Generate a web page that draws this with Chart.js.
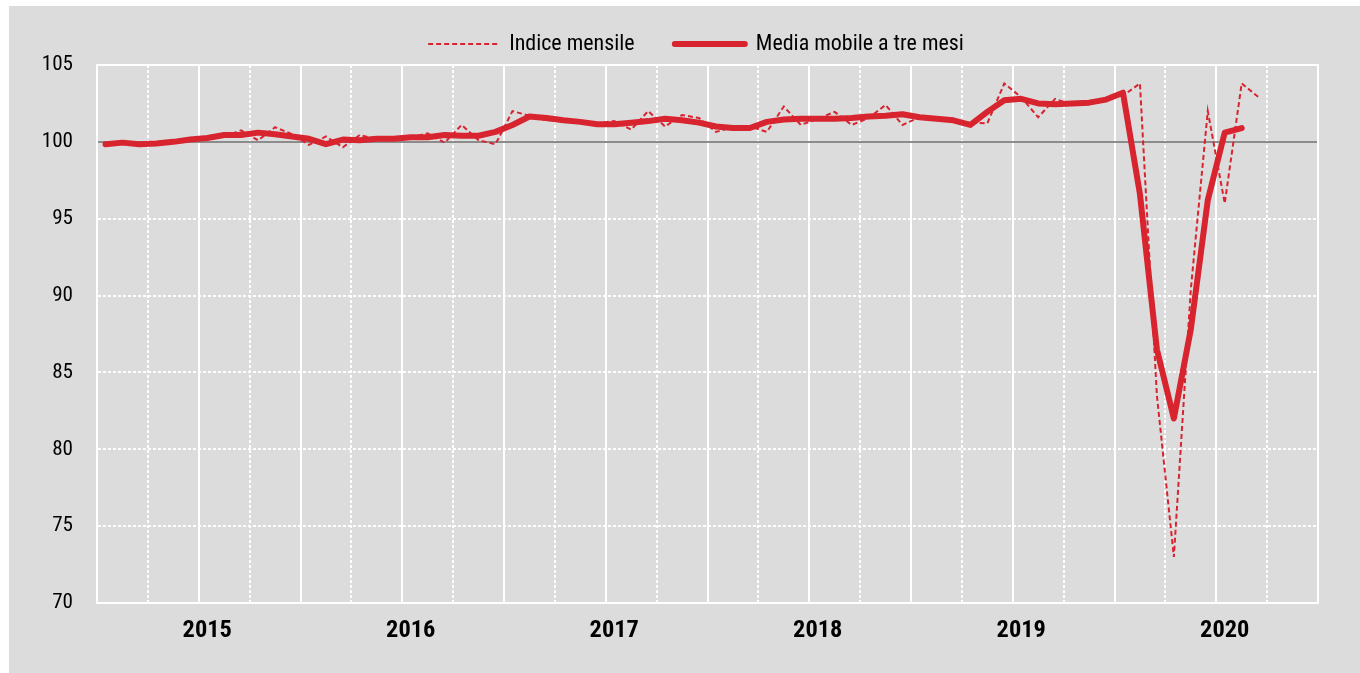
<!DOCTYPE html>
<html>
<head>
<meta charset="utf-8">
<script src="https://cdn.jsdelivr.net/npm/chart.js@4"></script>
<style>
  html, body { margin: 0; padding: 0; background: #ffffff; }
  #wrap { position: absolute; left: 0; top: 0; width: 1360px; height: 673px; }
</style>
</head>
<body>
<div id="wrap"><canvas id="c" width="1360" height="673"></canvas></div>
<script>
// ---- data ----
const years = ['2015', '2016', '2017', '2018', '2019', '2020'];
const months = ['01', '02', '03', '04', '05', '06', '07', '08', '09', '10', '11', '12'];
const yearLabelMonth = 6; // year label placed at July
const seriesNames = ['Indice mensile', 'Media mobile a tre mesi'];

const indiceMensile = [
  99.8, 99.95, 99.8, 99.9, 100.0, 100.25, 100.3, 100.35, 100.75, 100.1, 100.95, 100.5,
  99.8, 100.35, 99.65, 100.45, 100.15, 100.25, 100.3, 100.55, 99.95, 101.1, 100.1, 99.85,
  102.0, 101.7, 101.4, 101.4, 101.3, 101.2, 101.35, 100.8, 102.0, 101.0, 101.75, 101.55,
  100.65, 100.95, 101.0, 100.65, 102.3, 101.1, 101.5, 101.95, 101.1, 101.55, 102.4, 101.1,
  101.6, 101.55, 101.3, 101.25, 101.2, 103.8, 102.9, 101.6, 102.8, 102.4, 102.5, 102.8,
  103.0, 103.8, 83.5, 73.0, 90.4, 102.0, 96.0, 103.8, 102.9
];

const mediaMobile = [
  99.85, 99.95, 99.85, 99.9, 100.0, 100.15, 100.25, 100.45, 100.45, 100.6, 100.5, 100.35,
  100.2, 99.85, 100.15, 100.1, 100.2, 100.2, 100.3, 100.3, 100.45, 100.4, 100.4, 100.65,
  101.1, 101.65, 101.55, 101.4, 101.3, 101.15, 101.15, 101.25, 101.35, 101.5, 101.4, 101.25,
  101.0, 100.9, 100.9, 101.3, 101.45, 101.5, 101.5, 101.5, 101.55, 101.65, 101.7, 101.8,
  101.6, 101.5, 101.4, 101.1, 101.95, 102.7, 102.8, 102.5, 102.45, 102.5, 102.55, 102.75,
  103.2, 96.6, 86.5, 82.0, 87.8, 96.2, 100.6, 100.9
];

const yMin = 70, yMax = 105, yStep = 5, refLine = 100;

// ---- build ----
const labels = [];
years.forEach(y => months.forEach(m => labels.push(y + '-' + m)));

const RED = '#d7242f';
const PADL = 32;

// ---- font selection: prefer a narrow face like the original ----
const probe = document.createElement('canvas').getContext('2d');
function widthOf(font, text) {
  probe.font = '10px monospace';
  probe.font = font;
  if (probe.font.indexOf('10px') >= 0 && font.indexOf('10px') < 0) return NaN;
  return probe.measureText(text).width;
}
const SAMPLE = seriesNames[1];
const baseW = widthOf("400 22px 'Liberation Sans', Arial, sans-serif", SAMPLE);
const monoW = widthOf('400 22px monospace', SAMPLE);
const candidates = [
  { fam: "'Liberation Sans Narrow'", str: '' },
  { fam: "'Arial Narrow'", str: '' },
  { fam: "Roboto", str: 'condensed' },
  { fam: "'Noto Sans'", str: 'condensed' },
  { fam: "'Open Sans'", str: 'condensed' }
];
let FAM = "'Liberation Sans', Arial, sans-serif", STR = '';
for (const c of candidates) {
  const present = widthOf('400 22px ' + c.fam + ', monospace', SAMPLE);
  if (!(Math.abs(present - monoW) > 0.5)) continue;
  const w = widthOf('400 ' + (c.str ? c.str + ' ' : '') + '22px ' + c.fam + ', monospace', SAMPLE);
  if (w > 0 && w < baseW * 0.93) { FAM = c.fam + ', sans-serif'; STR = c.str; break; }
}
const W_REG = STR ? '400 ' + STR : 'normal';
const W_BOLD = STR ? '700 ' + STR : 'bold';
function f(weight, size) { return weight + ' ' + size + 'px ' + FAM; }
function fitSize(nominal, weight, text, target) {
  const w = widthOf(f(weight, nominal), text);
  const fit = nominal * target / w;
  return Math.min(nominal, Math.sqrt(nominal * fit));
}
const legendSize = fitSize(22, W_REG, SAMPLE, 208);
const yTickSize = fitSize(22, W_REG, '105', 30);
const yearSize = fitSize(25, W_BOLD, '2015', 48);
const spaceW = widthOf(f(W_REG, legendSize), ' ') || 5;
const extraSpaces = ' '.repeat(Math.max(0, Math.round(28 / spaceW)));
const legendPad = 10;
const topPad = 65 - (2 * legendPad + legendSize);

const bgPlugin = {
  id: 'bg',
  beforeDraw(chart) {
    const c = chart.ctx;
    c.save();
    c.fillStyle = '#dcdcdc';
    c.fillRect(9, 6, 1351, 667);
    c.restore();
  }
};

new Chart(document.getElementById('c'), {
  type: 'line',
  data: {
    labels: labels,
    datasets: [
      {
        label: seriesNames[0], data: indiceMensile,
        borderColor: RED, backgroundColor: RED, borderWidth: 2, borderDash: [5, 3],
        pointRadius: 0, pointStyle: 'line', tension: 0, fill: false
      },
      {
        label: seriesNames[1], data: mediaMobile,
        borderColor: RED, backgroundColor: RED, borderWidth: 6,
        borderCapStyle: 'round', borderJoinStyle: 'round',
        pointRadius: 0, pointStyle: 'line', tension: 0, fill: false
      }
    ]
  },
  plugins: [bgPlugin],
  options: {
    responsive: false,
    animation: false,
    devicePixelRatio: 1,
    layout: { padding: { top: topPad, left: PADL, right: 0, bottom: 0 } },
    plugins: {
      legend: {
        position: 'top', align: 'center',
        labels: {
          usePointStyle: true, pointStyleWidth: 70, padding: legendPad, color: '#000',
          font: { family: FAM, size: legendSize, weight: W_REG },
          generateLabels(chart) {
            const items = Chart.defaults.plugins.legend.labels.generateLabels(chart);
            items.forEach((it, i) => {
              const ds = chart.data.datasets[i];
              it.lineDash = ds.borderDash || [];
              it.lineWidth = ds.borderWidth;
              it.strokeStyle = ds.borderColor;
              it.lineCap = ds.borderCapStyle || 'butt';
            });
            items[0].text = items[0].text + extraSpaces;
            return items;
          }
        }
      },
      tooltip: { enabled: false },
      title: { display: false }
    },
    scales: {
      x: {
        type: 'category', position: 'bottom', offset: true,
        grid: {
          offset: true, lineWidth: 2, drawTicks: false,
          color: c => (c.index % 3 === 0 && c.index % 6 !== 0) ? '#ffffff' : 'rgba(0,0,0,0)'
        },
        border: { color: '#ffffff', width: 2, dash: [3, 2] },
        ticks: {
          autoSkip: false, maxRotation: 0, minRotation: 0, padding: 13, color: '#000',
          font: { family: FAM, size: yearSize, weight: W_BOLD },
          callback: (v, i) => (i % 12 === yearLabelMonth) ? years[Math.floor(i / 12)] : ''
        },
        afterFit: s => { s.height = 70; }
      },
      xTop: {
        type: 'category', position: 'top', offset: true,
        grid: {
          offset: true, lineWidth: 2, drawTicks: false,
          color: c => (c.index === undefined || c.index % 6 === 0) ? '#ffffff' : 'rgba(0,0,0,0)'
        },
        border: { color: '#ffffff', width: 2 },
        ticks: { display: false },
        afterFit: s => { s.height = 0; }
      },
      y: {
        type: 'linear', position: 'left', min: yMin, max: yMax,
        ticks: { stepSize: yStep, padding: 24, color: '#000', font: { family: FAM, size: yTickSize, weight: W_REG } },
        grid: { color: '#ffffff', lineWidth: 2, drawTicks: false },
        border: { color: '#ffffff', width: 2, dash: [3, 2] },
        afterFit: s => { s.width = 97 - PADL; }
      },
      yR: {
        type: 'linear', position: 'right', min: yMin, max: yMax,
        ticks: { display: false, stepSize: yStep },
        grid: {
          lineWidth: 2, drawTicks: false,
          color: c => (c.tick && c.tick.value === refLine) ? '#8c8c8c' : 'rgba(0,0,0,0)'
        },
        border: { color: '#ffffff', width: 2 },
        afterFit: s => { s.width = 42; }
      }
    }
  }
});
</script>
</body>
</html>
